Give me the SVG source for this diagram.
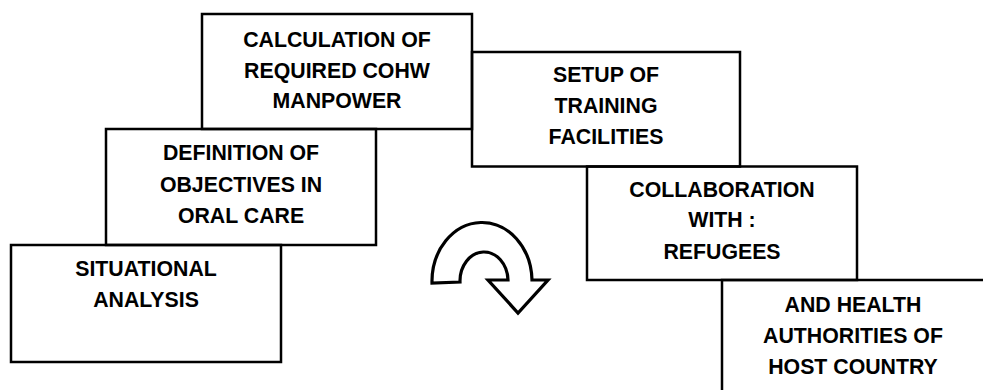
<svg xmlns="http://www.w3.org/2000/svg" width="983" height="390" viewBox="0 0 983 390">
  <style>
    .box { fill: none; stroke: #000; stroke-width: 2.5; }
    .lbl { font-family: "Liberation Sans", Arial, sans-serif; font-weight: bold; font-size: 21.3px; fill: #000; text-anchor: middle; }
    .arrow { fill: #fff; stroke: #000; stroke-width: 3.2; stroke-linejoin: miter; }
  </style>
  <rect width="983" height="390" fill="#fff"/>

  <g id="situational-analysis">
    <rect class="box" x="11" y="245" width="270" height="117"/>
    <text class="lbl" x="146" y="276">SITUATIONAL</text>
    <text class="lbl" x="146" y="307">ANALYSIS</text>
  </g>

  <g id="definition-objectives">
    <rect class="box" x="106" y="129" width="270" height="116"/>
    <text class="lbl" x="241" y="160">DEFINITION OF</text>
    <text class="lbl" x="241" y="191.5">OBJECTIVES IN</text>
    <text class="lbl" x="241" y="223">ORAL CARE</text>
  </g>

  <g id="calculation-manpower">
    <rect class="box" x="202" y="14" width="270" height="115"/>
    <text class="lbl" x="337" y="47">CALCULATION OF</text>
    <text class="lbl" x="337" y="77.5">REQUIRED COHW</text>
    <text class="lbl" x="337" y="108">MANPOWER</text>
  </g>

  <g id="setup-training">
    <rect class="box" x="472" y="52" width="268" height="114.5"/>
    <text class="lbl" x="606" y="82">SETUP OF</text>
    <text class="lbl" x="606" y="113">TRAINING</text>
    <text class="lbl" x="606" y="144">FACILITIES</text>
  </g>

  <g id="collaboration">
    <rect class="box" x="587" y="166.5" width="270" height="113.5"/>
    <text class="lbl" x="722" y="196.5">COLLABORATION</text>
    <text class="lbl" x="722" y="227">WITH :</text>
    <text class="lbl" x="722" y="258.5">REFUGEES</text>
  </g>

  <g id="health-authorities">
    <rect class="box" x="722" y="280" width="275" height="120"/>
    <text class="lbl" x="853" y="312">AND HEALTH</text>
    <text class="lbl" x="853" y="343">AUTHORITIES OF</text>
    <text class="lbl" x="853" y="373.5">HOST COUNTRY</text>
  </g>

  <g id="connectors">
    <g id="cycle-arrow">
      <path class="arrow" d="M 432 283 A 50 59 0 0 1 532 280 L 548 280 L 518 313 L 488 280 L 508 280 A 24 29 0 0 0 460 282 Z"/>
    </g>
  </g>
</svg>
